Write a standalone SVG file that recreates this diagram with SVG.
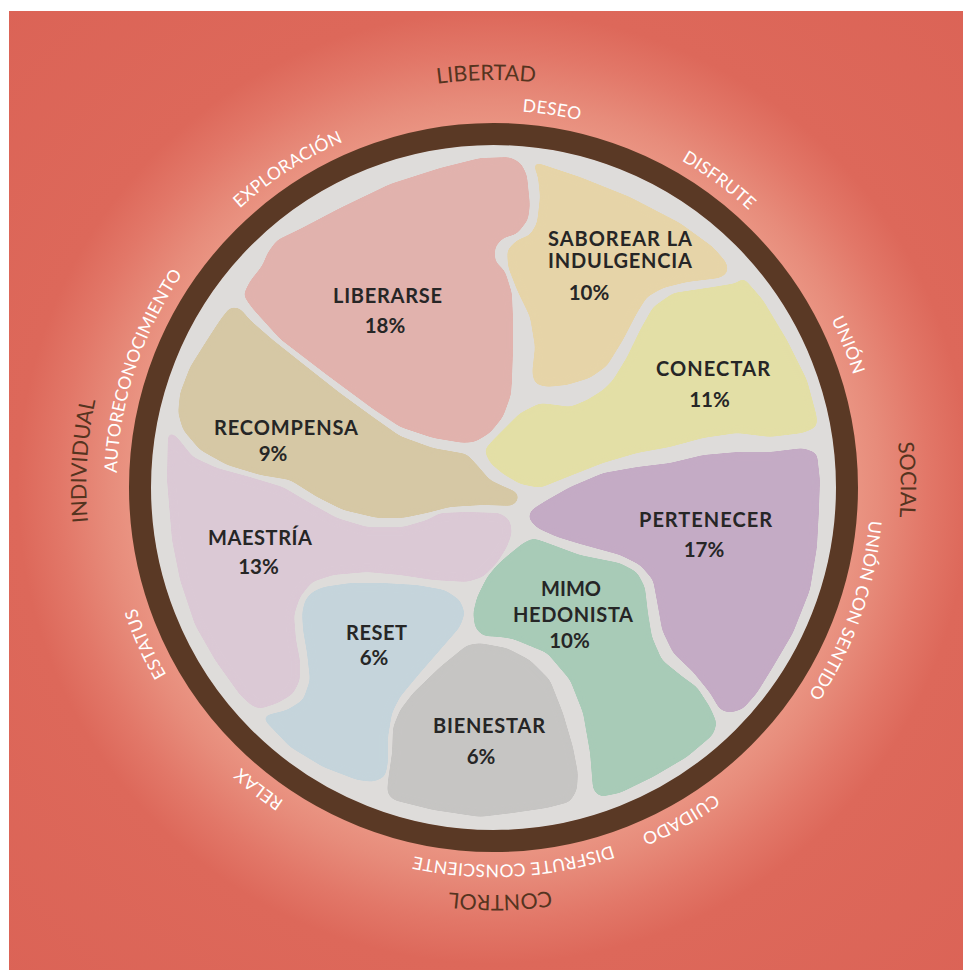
<svg xmlns="http://www.w3.org/2000/svg" xmlns:xlink="http://www.w3.org/1999/xlink" width="963" height="970" viewBox="0 0 963 970">
<defs>
<radialGradient id="bg" gradientUnits="userSpaceOnUse" cx="493.5" cy="487.5" r="700">
<stop offset="0.5" stop-color="#eb9886"/>
<stop offset="0.55" stop-color="#e78c7b"/>
<stop offset="0.62" stop-color="#e27768"/>
<stop offset="0.68" stop-color="#dd685a"/>
<stop offset="1" stop-color="#db6356"/>
</radialGradient>
<filter id="smooth" x="-10%" y="-10%" width="120%" height="120%">
<feGaussianBlur stdDeviation="3.5"/>
<feComponentTransfer><feFuncA type="linear" slope="16" intercept="-7.5"/></feComponentTransfer>
</filter>
<path id="arcS" d="M204.70,729.83 A377,377 0 1 1 782.30,245.17 A377,377 0 1 1 204.70,729.83"/>
<path id="arcL" d="M182.49,748.47 A406,406 0 1 1 804.51,226.53 A406,406 0 1 1 182.49,748.47"/>
</defs>
<style>
.lbl{font-family:Lato,"Open Sans","Liberation Sans",sans-serif;font-weight:700;font-size:20px;fill:#262626}
.pct{font-family:Lato,"Open Sans","Liberation Sans",sans-serif;font-weight:700;font-size:20.5px;fill:#262626;text-anchor:middle}
.rl{font-family:Lato,"Open Sans","Liberation Sans",sans-serif;font-size:17.5px;fill:#ffffff;letter-spacing:0.3px}
.al{font-family:Lato,"Open Sans","Liberation Sans",sans-serif;font-weight:400;font-size:21.5px;fill:#55341f}
.blob{filter:url(#smooth)}
</style>
<rect x="0" y="0" width="963" height="970" fill="#ffffff"/>
<rect x="9" y="11" width="954" height="959" fill="url(#bg)"/>
<circle cx="493.5" cy="487.5" r="343" fill="#dedcda"/>
<circle cx="493.5" cy="487.5" r="353.5" fill="none" stroke="#5a3925" stroke-width="22"/>

<g id="node-liberarse">
<polygon class="blob" fill="#e1b2ad" points="243,295 250,281 262,266 268,252 277,240 300,229 340,208 390,184 440,168 480,158 510,157 521,163 527,175 530,205 528,220 517,234 503,238 495,247 495,261 505,271 512,293 513,320 513,350 512,380 511,395 503,417 490,433 475,442 463,443 433,438 400,427 373,409 327,375 280,339 252,308"/>
<text class="lbl" x="333" y="303" textLength="109" lengthAdjust="spacing">LIBERARSE</text>
<text class="pct" x="385" y="333">18%</text>
</g>

<g id="node-saborear">
<polygon class="blob" fill="#e6d4a8" points="532,161 580,177 630,197 680,223 713,247 727,263 728,273 720,278 687,282 663,288 647,297 637,313 623,340 607,366 590,378 567,385 547,387 535,384 532,373 535,347 530,317 517,290 508,267 507,250 517,240 530,235 537,223 540,197 538,177"/>
<text class="lbl" x="548" y="246" textLength="144" lengthAdjust="spacing">SABOREAR LA</text>
<text class="lbl" x="548" y="268" textLength="144" lengthAdjust="spacing">INDULGENCIA</text>
<text class="pct" x="589" y="300">10%</text>
</g>

<g id="node-conectar">
<polygon class="blob" fill="#e3dfa6" points="743,277 763,300 787,340 807,380 817,417 817,427 803,433 770,437 737,433 703,438 670,447 637,453 603,463 570,476 540,488 520,484 503,474 490,463 484,450 493,440 520,413 540,403 557,405 570,407 587,400 603,390 613,380 627,357 640,330 653,307 673,293 713,287 737,283"/>
<text class="lbl" x="656" y="376" textLength="114" lengthAdjust="spacing">CONECTAR</text>
<text class="pct" x="709.5" y="407">11%</text>
</g>

<g id="node-pertenecer">
<polygon class="blob" fill="#c4abc5" points="528,518 531,510 547,500 570,487 603,473 637,467 670,463 703,455 737,452 770,452 803,448 817,453 820,480 819,510 817,547 810,590 793,633 773,667 757,693 743,709 730,713 720,710 710,693 693,672 673,653 662,630 658,607 653,580 640,565 620,555 580,544 557,537 537,528"/>
<text class="lbl" x="639" y="527" textLength="133" lengthAdjust="spacing">PERTENECER</text>
<text class="pct" x="704" y="557">17%</text>
</g>

<g id="node-mimo-hedonista">
<polygon class="blob" fill="#a8cbb7" points="533,538 545,542 580,555 620,563 637,572 645,587 648,613 652,637 662,660 683,677 697,687 710,707 717,723 713,735 687,757 653,777 620,793 600,797 593,790 590,753 583,713 570,680 547,653 513,639 500,637 483,636 475,628 473,613 477,597 487,577 497,565 507,556 523,543"/>
<text class="lbl" x="541" y="596" textLength="60" lengthAdjust="spacing">MIMO</text>
<text class="lbl" x="513" y="622" textLength="120" lengthAdjust="spacing">HEDONISTA</text>
<text class="pct" x="569.5" y="648">10%</text>
</g>

<g id="node-bienestar">
<polygon class="blob" fill="#c6c5c3" points="467,645 440,667 413,693 400,710 393,727 392,753 388,780 387,793 393,800 433,810 480,817 513,813 547,808 570,802 577,790 578,773 573,747 563,713 550,680 530,660 507,648 480,643"/>
<text class="lbl" x="433" y="733" textLength="112" lengthAdjust="spacing">BIENESTAR</text>
<text class="pct" x="481" y="764">6%</text>
</g>

<g id="node-reset">
<polygon class="blob" fill="#c5d4db" points="305,600 312,592 323,587 350,583 383,583 417,585 445,590 460,600 465,613 460,627 440,650 420,673 400,697 392,713 388,737 388,763 385,777 373,782 357,780 323,767 290,747 267,723 262,717 267,715 287,710 303,700 310,680 307,653 303,630 302,613"/>
<text class="lbl" x="346" y="640" textLength="61" lengthAdjust="spacing">RESET</text>
<text class="pct" x="374" y="665">6%</text>
</g>

<g id="node-maestria">
<polygon class="blob" fill="#dbc9d5" points="168,430 177,437 193,457 217,468 250,477 283,487 310,503 337,518 367,527 403,527 427,520 440,513 467,512 500,513 510,520 512,533 507,547 497,563 483,577 467,582 433,580 400,575 367,572 333,575 312,582 300,597 294,615 296,640 300,660 300,680 293,694 278,703 260,709 252,706 240,695 215,660 195,625 180,580 172,540 167,480"/>
<text class="lbl" x="208" y="545" textLength="104" lengthAdjust="spacing">MAESTRÍA</text>
<text class="pct" x="258.5" y="574">13%</text>
</g>

<g id="node-recompensa">
<polygon class="blob" fill="#d6c8a5" points="230,307 240,308 250,320 273,340 307,367 340,393 373,417 400,436 433,448 467,454 478,466 490,480 505,487 517,492 519,499 513,506 483,505 450,507 427,513 403,518 377,518 343,510 317,497 290,480 260,475 227,465 200,450 183,430 178,413 180,393 190,367 207,340 220,320"/>
<text class="lbl" x="214" y="435" textLength="144" lengthAdjust="spacing">RECOMPENSA</text>
<text class="pct" x="273" y="461">9%</text>
</g>

<g id="connectors"></g>

<g id="ring-labels">
<text class="rl" text-anchor="middle"><textPath xlink:href="#arcS" href="#arcS" startOffset="913.3">DESEO</textPath></text>
<text class="rl" text-anchor="middle"><textPath xlink:href="#arcS" href="#arcS" startOffset="1093.9">DISFRUTE</textPath></text>
<text class="rl" text-anchor="middle"><textPath xlink:href="#arcS" href="#arcS" startOffset="1303.5">UNIÓN</textPath></text>
<text class="rl" text-anchor="middle"><textPath xlink:href="#arcS" href="#arcS" startOffset="1573.6">UNIÓN CON SENTIDO</textPath></text>
<text class="rl" text-anchor="middle"><textPath xlink:href="#arcS" href="#arcS" startOffset="1846.1">CUIDADO</textPath></text>
<text class="rl" text-anchor="middle"><textPath xlink:href="#arcS" href="#arcS" startOffset="2019.4">DISFRUTE CONSCIENTE</textPath></text>
<text class="rl" text-anchor="middle"><textPath xlink:href="#arcS" href="#arcS" startOffset="2288.8">RELAX</textPath></text>
<text class="rl" text-anchor="middle"><textPath xlink:href="#arcS" href="#arcS" startOffset="104.0">ESTATUS</textPath></text>
<text class="rl" text-anchor="middle"><textPath xlink:href="#arcS" href="#arcS" startOffset="383.9">AUTORECONOCIMIENTO</textPath></text>
<text class="rl" text-anchor="middle"><textPath xlink:href="#arcS" href="#arcS" startOffset="638.9">EXPLORACIÓN</textPath></text>
</g>
<g id="axis-labels">
<text class="al" text-anchor="middle"><textPath xlink:href="#arcL" href="#arcL" startOffset="916.7">LIBERTAD</textPath></text>
<text class="al" text-anchor="middle"><textPath xlink:href="#arcL" href="#arcL" startOffset="1554.9">SOCIAL</textPath></text>
<text class="al" text-anchor="middle"><textPath xlink:href="#arcL" href="#arcL" startOffset="2196.2">CONTROL</textPath></text>
<text class="al" text-anchor="middle"><textPath xlink:href="#arcL" href="#arcL" startOffset="310.4">INDIVIDUAL</textPath></text>
</g>
</svg>
